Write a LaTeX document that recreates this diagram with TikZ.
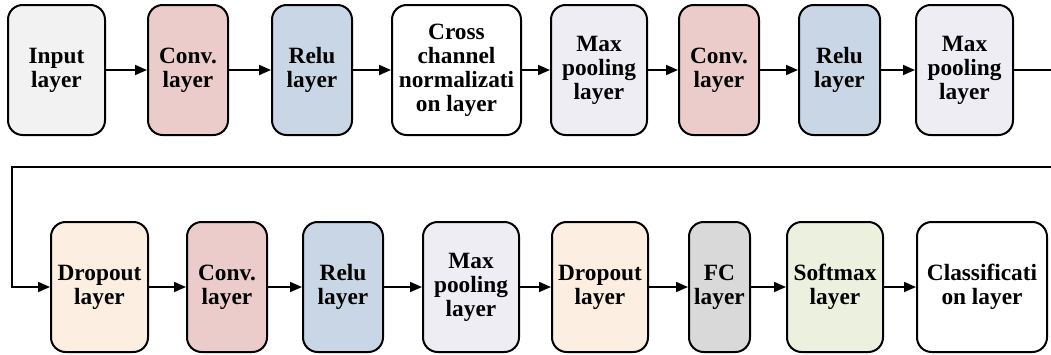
\documentclass[tikz,border=0pt]{standalone}
\usepackage{fontspec}
\setmainfont{Liberation Serif}
\usetikzlibrary{arrows.meta}
\definecolor{cInput}{HTML}{F2F2F2}
\definecolor{cConv}{HTML}{EBCCCB}
\definecolor{cRelu}{HTML}{C9D6E5}
\definecolor{cMax}{HTML}{EFEDF4}
\definecolor{cDrop}{HTML}{FDEEE2}
\definecolor{cFC}{HTML}{D9D9D9}
\definecolor{cSoft}{HTML}{EBF0DF}
\tikzset{
  layerbox/.style={draw=black, line width=1.5pt, rounded corners=11pt, minimum height=97.5pt,
    inner sep=0pt, align=center, font=\fontsize{17.5}{18}\selectfont\bfseries},
  flow/.style={line width=1.3pt, -{Triangle[length=9pt,width=7.5pt]}},
  plainline/.style={line width=1.3pt}
}
\begin{document}
\begin{tikzpicture}[x=0.75pt,y=-0.75pt]
\useasboundingbox (0,0) rectangle (1051,354);
% top row
\node[layerbox, fill=cInput, minimum width=72.75pt] (in) at (56.5,70) {Input\\layer};
\node[layerbox, fill=cConv, minimum width=60pt] (c1) at (188,70) {Conv.\\layer};
\node[layerbox, fill=cRelu, minimum width=60pt] (r1) at (312,70) {Relu\\layer};
\node[layerbox, fill=white, minimum width=96.75pt] (cn) at (456.5,70) {Cross\\channel\\normalizati\\on layer};
\node[layerbox, fill=cMax, minimum width=72pt] (m1) at (599,70) {Max\\pooling\\layer};
\node[layerbox, fill=cConv, minimum width=60pt] (c2) at (719,70) {Conv.\\layer};
\node[layerbox, fill=cRelu, minimum width=60.75pt] (r2) at (839.5,70) {Relu\\layer};
\node[layerbox, fill=cMax, minimum width=72.75pt] (m2) at (964.5,70) {Max\\pooling\\layer};
% bottom row
\node[layerbox, fill=cDrop, minimum width=72.75pt] (d1) at (99.5,287) {Dropout\\layer};
\node[layerbox, fill=cConv, minimum width=60pt] (c3) at (227,287) {Conv.\\layer};
\node[layerbox, fill=cRelu, minimum width=60pt] (r3) at (343,287) {Relu\\layer};
\node[layerbox, fill=cMax, minimum width=72pt] (m3) at (471,287) {Max\\pooling\\layer};
\node[layerbox, fill=cDrop, minimum width=72pt] (d2) at (600,287) {Dropout\\layer};
\node[layerbox, fill=cFC, minimum width=45.75pt] (fc) at (719.5,287) {FC\\layer};
\node[layerbox, fill=cSoft, minimum width=72pt] (sm) at (835,287) {Softmax\\layer};
\node[layerbox, fill=white, minimum width=97.5pt] (cl) at (982,287) {Classificati\\on layer};
% connectors
\draw[flow] (in) -- (c1);
\draw[flow] (c1) -- (r1);
\draw[flow] (r1) -- (cn);
\draw[flow] (cn) -- (m1);
\draw[flow] (m1) -- (c2);
\draw[flow] (c2) -- (r2);
\draw[flow] (r2) -- (m2);
\coordinate (outR) at (1052,70);
\coordinate (inR) at (1052,167);
\coordinate (turnL) at (12,167);
\draw[plainline] (m2.east) -- (outR);
\draw[flow] (inR) -- (turnL) |- (d1.west);
\draw[flow] (d1) -- (c3);
\draw[flow] (c3) -- (r3);
\draw[flow] (r3) -- (m3);
\draw[flow] (m3) -- (d2);
\draw[flow] (d2) -- (fc);
\draw[flow] (fc) -- (sm);
\draw[flow] (sm) -- (cl);
\end{tikzpicture}
\end{document}
